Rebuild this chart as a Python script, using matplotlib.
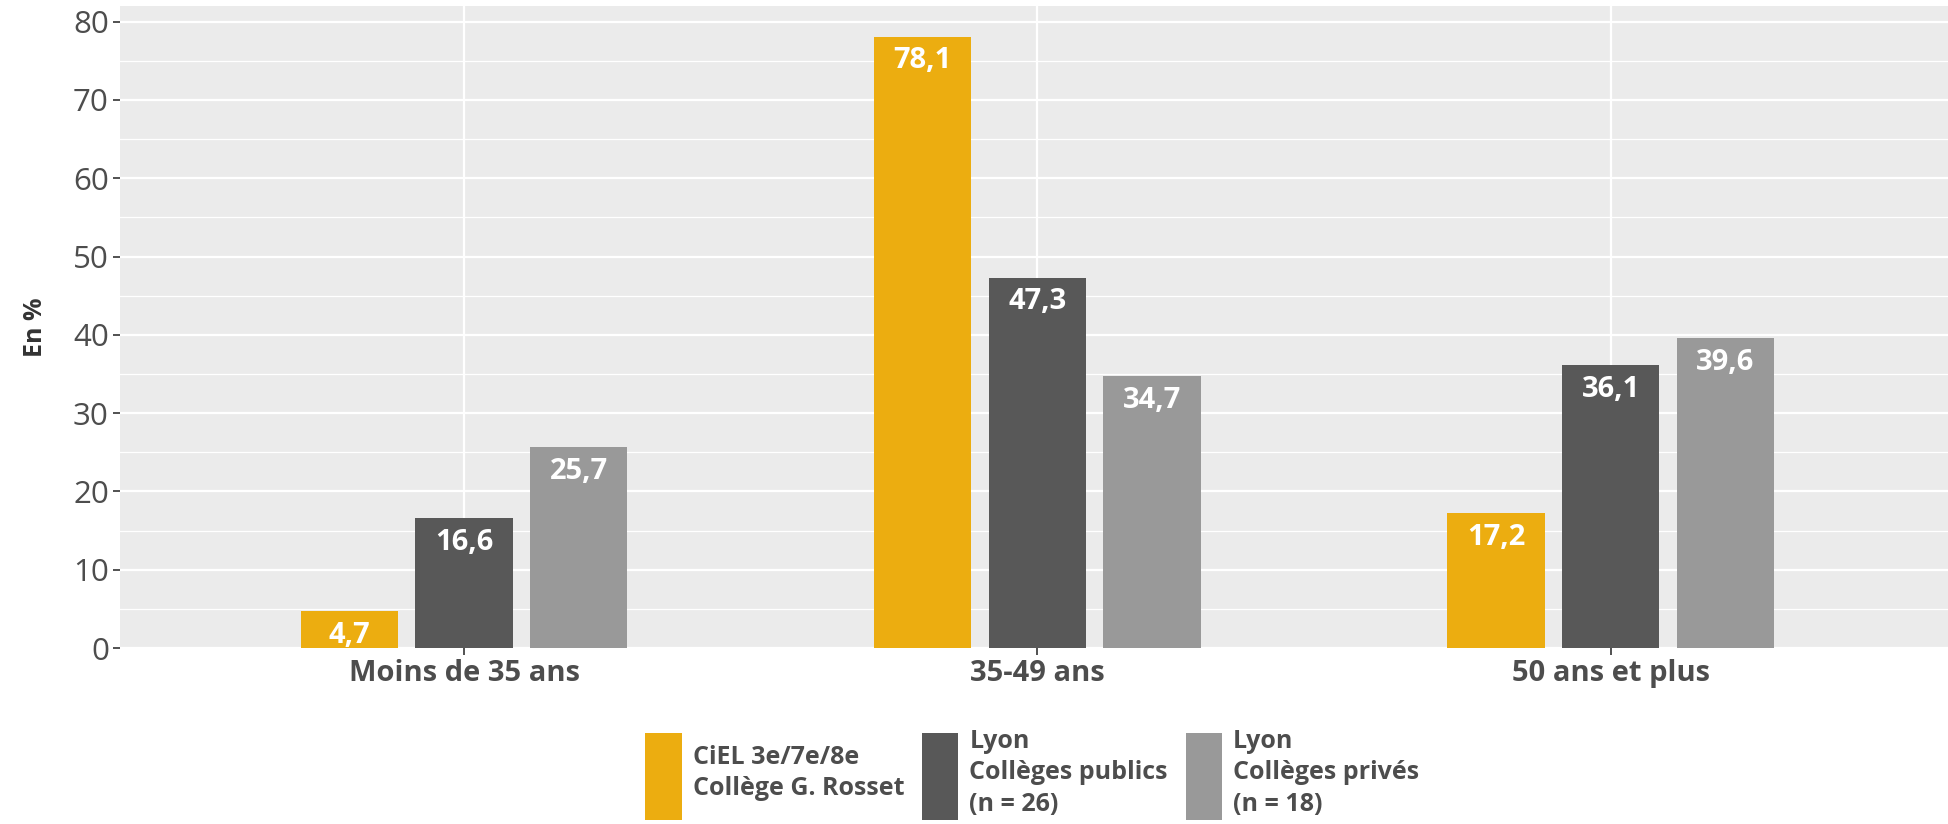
import matplotlib.pyplot as plt
import matplotlib
from matplotlib.patches import Patch
import numpy as np

matplotlib.rcParams['font.family'] = ['Open Sans', 'DejaVu Sans']

# ── Données ──
categories = ['Moins de 35 ans', '35-49 ans', '50 ans et plus']
series = ['CiEL 3e/7e/8e\nCollège G. Rosset',
          'Lyon\nCollèges publics\n(n = 26)',
          'Lyon\nCollèges privés\n(n = 18)']
ciel   = [4.7, 78.1, 17.2]
public = [16.6, 47.3, 36.1]
prive  = [25.7, 34.7, 39.6]
colors = ['#ECAD10', '#585858', '#999999']

x = np.arange(len(categories))
width = 0.17
step = 0.2

fig = plt.figure(figsize=(19.49, 8.24), dpi=100)
ax = fig.add_axes([120/1949, 1 - 648/824, 1 - 120/1949, 642/824])
ax.set_facecolor('#EBEBEB')

for i, (vals, col) in enumerate(zip([ciel, public, prive], colors)):
    bars = ax.bar(x + (i - 1) * step, vals, width, color=col, zorder=3)
    for b, v in zip(bars, vals):
        ax.annotate(f'{v:.1f}'.replace('.', ','),
                    (b.get_x() + b.get_width() / 2, b.get_height()),
                    xytext=(0, -7), textcoords='offset points',
                    ha='center', va='top', color='white',
                    fontsize=21, fontweight='bold', zorder=4)

ax.set_xlim(-0.6, 2.59)
ax.set_ylim(0, 82)
ax.set_yticks(np.arange(0, 81, 10))
ax.set_yticks(np.arange(5, 81, 10), minor=True)
ax.set_xticks(x)
ax.set_xticklabels(categories, fontsize=21, fontweight='bold', color='#4D4D4D')
ax.tick_params(axis='y', labelsize=22.5, labelcolor='#4D4D4D', color='#333333',
               length=5, width=1.2, pad=3)
ax.tick_params(axis='x', color='#333333', length=5, width=1.2, pad=3)
ax.tick_params(axis='y', which='minor', length=0)
ax.grid(True, which='major', color='white', linewidth=1.6, zorder=0)
ax.grid(True, which='minor', axis='y', color='white', linewidth=0.9, zorder=0)
ax.set_axisbelow(True)
for s in ax.spines.values():
    s.set_visible(False)

ax.set_ylabel('En %', fontsize=18, fontweight='bold', color='#333333', labelpad=18)

handles = [Patch(facecolor=c, edgecolor='none') for c in colors]
leg = fig.legend(handles, series, loc='lower left',
                 bbox_to_anchor=(623/1949, -0.022),
                 ncol=3, frameon=False, handlelength=1.45,
                 handleheight=4.95, handletextpad=0.45, columnspacing=0.7,
                 labelcolor='#4D4D4D',
                 prop={'weight': 'bold', 'size': 18})
for t in leg.get_texts():
    t.set_linespacing(1.35)

fig.savefig('out.png', dpi=100)
